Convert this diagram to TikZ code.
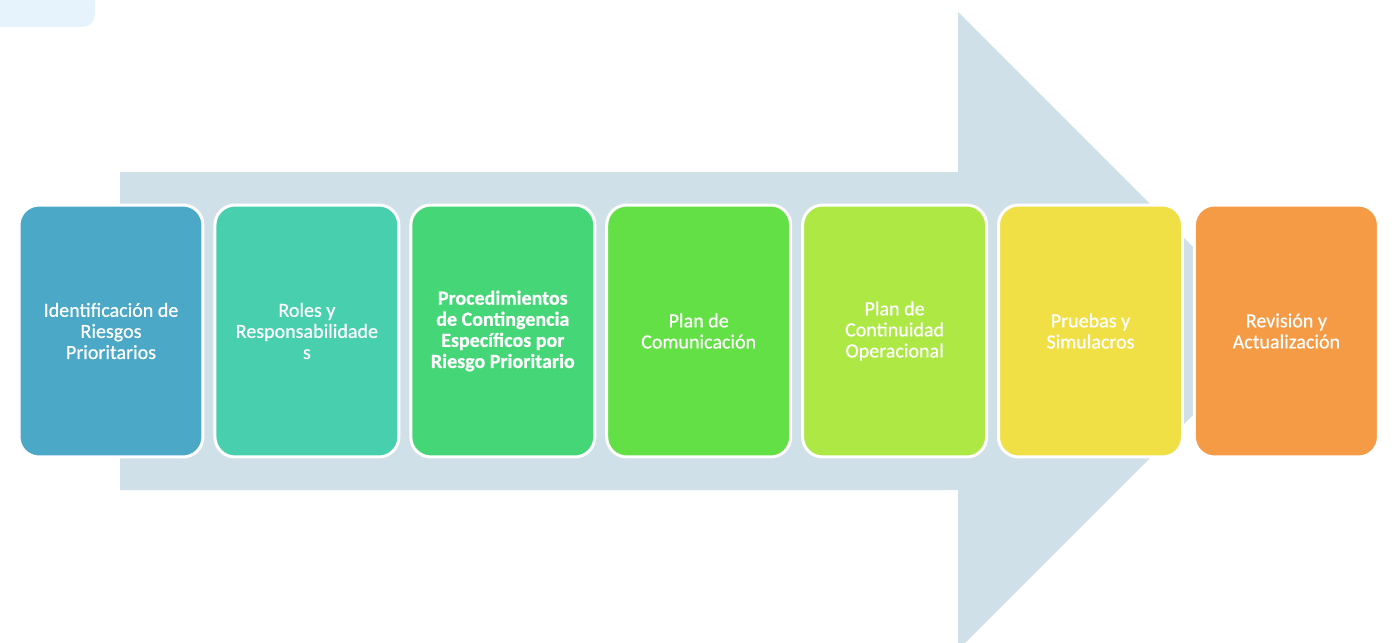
\documentclass[tikz,border=0pt]{standalone}
\usepackage{fontspec}
\setmainfont{Carlito}
\newfontfamily\stagefont[FakeBold=0.6]{Carlito}
\usepackage{tikz}

\definecolor{arrowgray}{HTML}{D0E0E8}
\definecolor{tabblue}{HTML}{E6F3FC}
\definecolor{stepone}{HTML}{4BA8C6}
\definecolor{steptwo}{HTML}{48CFAD}
\definecolor{stepthree}{HTML}{45D677}
\definecolor{stepfour}{HTML}{63E045}
\definecolor{stepfive}{HTML}{ADE845}
\definecolor{stepsix}{HTML}{F0E045}
\definecolor{stepseven}{HTML}{F59A45}

\begin{document}
\begin{tikzpicture}[x=0.02cm,y=-0.02cm,
  stage/.style={rectangle,rounded corners=0.4cm,draw=white,line width=1.7pt,
                minimum width=3.68cm,minimum height=5.04cm,text=white,
                align=center,font=\stagefont\fontsize{11.4}{12}\selectfont}]
  \pgfmathsetmacro\hstep{195.9}   % distance between box centres
  \pgfmathsetmacro\xzero{111}     % centre of the first box
  \pgfmathsetmacro\ymid{331}

  \clip (0,0) rectangle (1395,642);

% small tab at top left
  \fill[tabblue,rounded corners=0.25cm] (-20,-20) rectangle (95,27);

% big background arrow
  \fill[arrowgray] (120,172) -- (958,172) -- (958,12) -- (1277,\ymid)
                   -- (958,650) -- (958,490) -- (120,490) -- cycle;

% stages
  \node[stage,fill=stepone]   (ident) at (\xzero,\ymid)
       {Identificación de\\Riesgos\\Prioritarios};
  \node[stage,fill=steptwo]   (roles) at (\xzero+\hstep,\ymid)
       {Roles y\\Responsabilidade\\s};
  \node[stage,fill=stepthree] (proc)  at (\xzero+2*\hstep,\ymid)
       {\bfseries Procedimientos\\\bfseries de Contingencia\\\bfseries Específicos por\\\bfseries Riesgo Prioritario};
  \node[stage,fill=stepfour]  (comm)  at (\xzero+3*\hstep,\ymid)
       {Plan de\\Comunicación};
  \node[stage,fill=stepfive]  (cont)  at (\xzero+4*\hstep,\ymid)
       {Plan de\\Continuidad\\Operacional};
  \node[stage,fill=stepsix]   (tests) at (\xzero+5*\hstep,\ymid)
       {Pruebas y\\Simulacros};
  \node[stage,fill=stepseven] (review) at (\xzero+6*\hstep,\ymid)
       {Revisión y\\Actualización};
\end{tikzpicture}
\end{document}
